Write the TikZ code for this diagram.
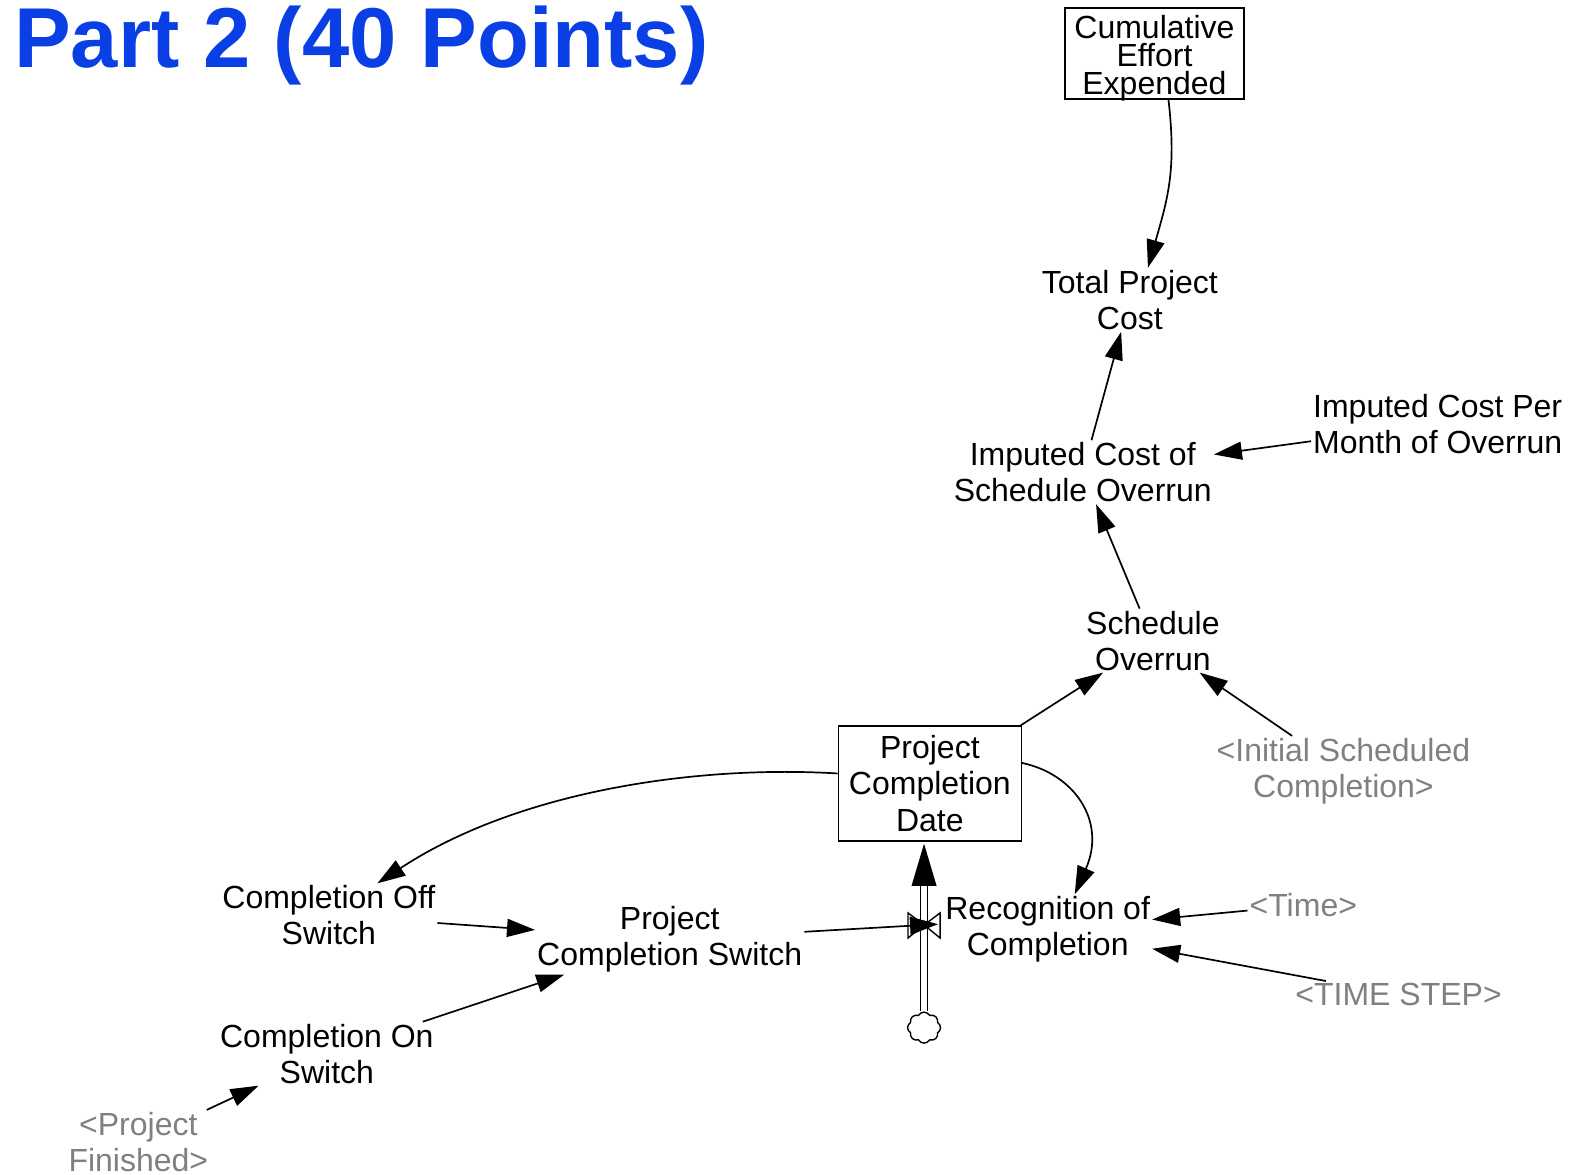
\documentclass[tikz,border=0pt]{standalone}
\usepackage{fontspec}
\setmainfont{Liberation Sans}
\usetikzlibrary{arrows.meta,shapes.symbols,calc}
\definecolor{titleblue}{RGB}{10,63,230}
\definecolor{shadowgray}{RGB}{128,128,128}
\begin{document}
\begin{tikzpicture}[x=1.00255pt,y=-1.00255pt,
  lbl/.style={align=center,font=\fontsize{32}{36.1}\selectfont,inner sep=2pt},
  ghost/.style={lbl,text=shadowgray},
  stock/.style={draw,line width=1.4pt,inner sep=0pt},
  link/.style={line width=1.7pt,-{Triangle[length=28pt,width=18pt]}},
  pipe/.style={line width=1.4pt,double distance=5.5pt},
]
\useasboundingbox (0,0) rectangle (1568,1172);

% title
\node[anchor=base west,inner sep=0pt,text=titleblue,font=\fontsize{85}{85}\selectfont\bfseries] (title) at (14,67) {Part 2 (40 Points)};

% nodes
\node[stock,minimum width=179pt,minimum height=91pt] (cee) at (1151.5,53.5) {};
\node[lbl,inner sep=0pt,font=\fontsize{32}{28}\selectfont] (ceetext) at (1151.5,58) {Cumulative\\Effort\\Expended};
\node[lbl] (tpc) at (1127,299) {Total Project\\Cost};
\node[lbl] (icso) at (1080,471) {Imputed Cost of\\Schedule Overrun};
\node[lbl] (icpm) at (1434,423) {Imputed Cost Per\\Month of Overrun};
\node[lbl] (so) at (1150,639) {Schedule\\Overrun};
\node[ghost] (isc) at (1340,769) {<Initial Scheduled\\Completion>};
\node[stock,lbl,inner sep=0pt,minimum width=183pt,minimum height=115pt] (pcd) at (927.5,781.5) {Project\\Completion\\Date};
\node[lbl] (cos) at (328,913) {Completion Off\\Switch};
\node[lbl] (pcs) at (668,937) {Project\\Completion Switch};
\node[lbl] (con) at (326,1051) {Completion On\\Switch};
\node[ghost] (pf) at (138,1139) {<Project\\Finished>};
\node[lbl] (roc) at (1045,927) {Recognition of\\Completion};
\node[ghost] (time) at (1300,903) {<Time>};
\node[ghost] (ts) at (1395,992) {<TIME STEP>};
\coordinate (valve) at (921.7,922.6);
\node[cloud,draw,line width=1.4pt,cloud puffs=8,cloud puff arc=120,aspect=1,minimum width=33pt,minimum height=31pt,inner sep=0pt] (cloud) at (921.7,1025) {};

% flow pipe
\coordinate (pipetop) at (valve |- pcd.south);
\draw[pipe] (cloud.north) -- ($(pipetop)+(0,42)$);
\fill ($(pipetop)+(0,2)$) -- ($(pipetop)+(-12.5,44)$) -- ($(pipetop)+(12.5,44)$) -- cycle;
% valve
\draw[line width=1.4pt] ($(valve)+(-16,-12)$) -- ($(valve)+(-16,13)$) -- (valve) -- cycle;
\draw[line width=1.4pt] ($(valve)+(16,-12)$) -- ($(valve)+(16,13)$) -- (valve) -- cycle;

% links
\draw[link] ($(cee.south)+(14,0)$) .. controls +(8,70) and +(20,-70) .. ($(tpc.north)+(18,0)$);
\draw[link] (icso) -- (tpc);
\draw[link] (icpm) -- (icso);
\draw[link] (so) -- (icso);
\draw[link] (pcd) -- (so);
\draw[link] (isc) -- (so);
\draw[link] ($(pcd.west)+(0,-10)$) .. controls (698,763) and (518,788) .. (cos);
\draw[link] ($(pcd.east)+(0,-20.5)$) .. controls +(52,11) and +(32,-73) .. ($(roc.north)+(27,0)$);
\draw[link] (time) -- (roc);
\draw[link] (ts) -- (roc);
\draw[link] (cos) -- (pcs);
\draw[link] (con) -- (pcs);
\draw[link] (pf) -- (con);
\draw[link,shorten >=-14pt] (pcs) -- (valve);
\end{tikzpicture}
\end{document}
